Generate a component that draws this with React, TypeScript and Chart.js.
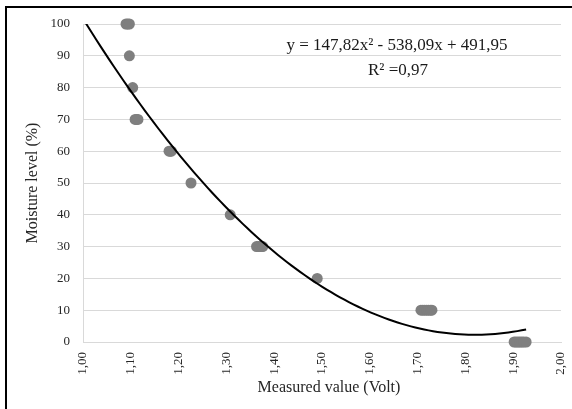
import React, { useEffect, useRef } from "react";
import { Chart, registerables } from "chart.js";

Chart.register(...registerables);

// Measured sensor voltage (x) and moisture level (y) for each sample
const volts = [
  1.09, 1.0935, 1.097,
  1.097,
  1.104,
  1.109, 1.112, 1.115,
  1.18, 1.1825, 1.185,
  1.226,
  1.308,
  1.363, 1.3665, 1.37, 1.373, 1.376,
  1.49,
  1.707, 1.711, 1.715, 1.719, 1.723, 1.727, 1.73,
  1.902, 1.906, 1.91, 1.914, 1.918, 1.922, 1.927,
];
const moisture = [
  100, 100, 100,
  90,
  80,
  70, 70, 70,
  60, 60, 60,
  50,
  40,
  30, 30, 30, 30, 30,
  20,
  10, 10, 10, 10, 10, 10, 10,
  0, 0, 0, 0, 0, 0, 0,
];

// Polynomial trend line as printed on the chart: y = a x^2 + b x + c
const trendCoef = [147.82, -538.09, 491.95];
const trendRange = [1.0, 1.927];
const trendLabel = "y = 147,82x\u00B2 - 538,09x + 491,95";
const r2Label = "R\u00B2 =0,97";

const xTitle = "Measured value (Volt)";
const yTitle = "Moisture level (%)";

const xMin = 1, xMax = 2, xStep = 0.1;
const yMin = 0, yMax = 100, yStep = 10;

const FONT = "'Liberation Serif', 'Times New Roman', serif";

export default function App() {
  const ref = useRef<HTMLCanvasElement | null>(null);

  useEffect(() => {
    document.body.style.margin = "0";
    const canvas = ref.current;
    if (!canvas) return;

    const pts = volts.map((v, i) => ({ x: v, y: moisture[i] }));
    const trend: { x: number; y: number }[] = [];
    const n = 100;
    for (let i = 0; i <= n; i++) {
      const x = trendRange[0] + ((trendRange[1] - trendRange[0]) * i) / n;
      trend.push({ x, y: trendCoef[0] * x * x + trendCoef[1] * x + trendCoef[2] });
    }

    const textPlugin = {
      id: "texts",
      afterDraw(chart: any) {
        const { ctx, chartArea } = chart;
        ctx.save();
        ctx.fillStyle = "#262626";
        ctx.textAlign = "center";
        ctx.textBaseline = "middle";
        ctx.font = `16px ${FONT}`;
        ctx.fillText(xTitle, 329, 388);
        ctx.save();
        ctx.translate(33, (chartArea.top + chartArea.bottom) / 2);
        ctx.rotate(-Math.PI / 2);
        ctx.fillText(yTitle, 0, 0);
        ctx.restore();
        ctx.font = `17px ${FONT}`;
        ctx.fillStyle = "#1a1a1a";
        ctx.fillText(trendLabel, 397, 46);
        ctx.fillText(r2Label, 398, 71);
        ctx.restore();
      },
    };

    const chart = new Chart(canvas, {
      type: "scatter",
      data: {
        datasets: [
          {
            label: "trend",
            data: trend,
            showLine: true,
            borderColor: "#000000",
            borderWidth: 2,
            pointRadius: 0,
            fill: false,
          },
          {
            label: "samples",
            data: pts,
            backgroundColor: "#7f7f7f",
            borderWidth: 0,
            pointRadius: 5.5,
            pointHoverRadius: 5.5,
            clip: false,
          } as any,
        ],
      },
      options: {
        responsive: false,
        animation: false,
        layout: { padding: { left: 0, top: 24, right: 0, bottom: 0 } },
        plugins: {
          legend: { display: false },
          tooltip: { enabled: false },
        },
        scales: {
          x: {
            type: "linear",
            min: xMin,
            max: xMax,
            afterFit: (s: any) => { s.height = 67; s.paddingRight = 11; s.paddingLeft = 0; },
            grid: { display: false, drawTicks: false },
            border: { display: true, color: "#d9d9d9", width: 1 },
            ticks: {
              stepSize: xStep,
              minRotation: 90,
              maxRotation: 90,
              padding: 10,
              color: "#262626",
              font: { family: FONT, size: 13 },
              callback: (v: any) => Number(v).toFixed(2).replace(".", ","),
            },
          },
          y: {
            min: yMin,
            max: yMax,
            afterFit: (s: any) => { s.width = 83; },
            grid: { color: "#d9d9d9", drawTicks: false, lineWidth: 1 },
            border: { display: true, color: "#d9d9d9", width: 1 },
            ticks: {
              stepSize: yStep,
              padding: 13,
              color: "#262626",
              font: { family: FONT, size: 13 },
            },
          },
        },
      },
      plugins: [textPlugin],
    });
    return () => chart.destroy();
  }, []);

  return (
    <div style={{ position: "absolute", left: 0, top: 0, width: 572, height: 409, background: "#fff" }}>
      <canvas ref={ref} width={572} height={409} style={{ display: "block" }} />
      <div style={{ position: "absolute", left: 5, top: 6, width: 567, height: 403, borderLeft: "2px solid #000", borderTop: "2px solid #000", boxSizing: "border-box", pointerEvents: "none" }} />
    </div>
  );
}
